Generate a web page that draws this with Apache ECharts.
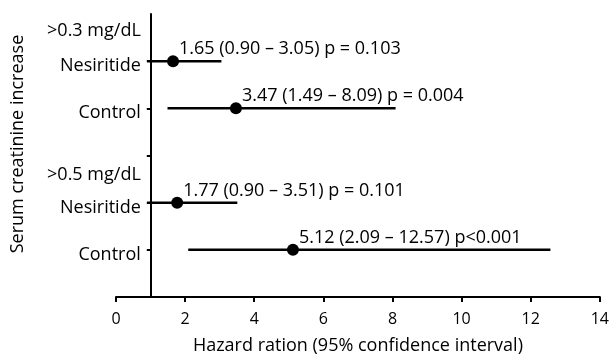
<!DOCTYPE html>
<html>
<head>
<meta charset="utf-8">
<script src="https://cdn.jsdelivr.net/npm/echarts@6/dist/echarts.min.js"></script>
<style>html,body{margin:0;padding:0;background:#fff}#c{width:612px;height:360px}</style>
</head>
<body>
<div id="c"></div>
<script>
// Row labels on the left and their positions along the (inverted) row axis
const rowLabels = ['>0.3 mg/dL', 'Nesiritide', 'Control', '>0.5 mg/dL', 'Nesiritide', 'Control'];
const rowLabelPos = [0.25, 1, 2, 3.3, 4, 5];
const rowTicks = [1, 2, 3, 4, 5];
// Estimates
const rowPos = [1, 2, 4, 5];
const hazard = [1.65, 3.47, 1.77, 5.12];
const ciLow = [0.90, 1.49, 0.90, 2.09];
const ciHigh = [3.05, 8.09, 3.51, 12.57];
const pValues = ['p = 0.103', 'p = 0.004', 'p = 0.101', 'p<0.001'];
// X axis
const xMin = 0, xMax = 14, xStep = 2, refLine = 1;

const FONT = 'Open Sans';
const INK = '#000';
const W = 612, gridLeft = 116, gridRight = 9;
const gridWidth = W - gridLeft - gridRight;
const yOffset = -(refLine - xMin) / (xMax - xMin) * gridWidth;

const chart = echarts.init(document.getElementById('c'), null, {renderer: 'canvas'});

const ciSeries = rowPos.map((y, i) => ({
  type: 'line',
  data: [[ciLow[i], y], [ciHigh[i], y]],
  symbol: 'none',
  silent: true,
  lineStyle: {color: '#000', width: 2.5},
  z: 2
}));

const pointSeries = {
  type: 'scatter',
  data: rowPos.map((y, i) => [hazard[i], y]),
  symbol: 'circle',
  symbolSize: 12,
  itemStyle: {color: '#000', opacity: 1},
  z: 3,
  label: {
    show: true,
    position: 'right',
    distance: 0,
    offset: [0, -12],
    fontFamily: FONT,
    fontSize: 18,
    color: INK,
    opacity: 1,
    formatter: p => {
      const i = p.dataIndex;
      return hazard[i].toFixed(2) + ' (' + ciLow[i].toFixed(2) + ' \u2013 ' + ciHigh[i].toFixed(2) + ') ' + pValues[i];
    }
  }
};

chart.setOption({
  animation: false,
  backgroundColor: '#fff',
  grid: {left: gridLeft, right: gridRight, top: 14, bottom: 59},
  xAxis: {
    type: 'value',
    min: xMin, max: xMax, interval: xStep,
    splitLine: {show: false},
    axisLine: {show: true, onZero: false, lineStyle: {color: '#000', width: 2}},
    axisTick: {show: true, length: 5, lineStyle: {color: '#000', width: 2}},
    axisLabel: {margin: 14, fontFamily: FONT, fontSize: 16, color: INK},
    name: 'Hazard ration (95% confidence interval)',
    nameLocation: 'middle',
    nameGap: 40,
    nameTextStyle: {fontFamily: FONT, fontSize: 18, color: INK}
  },
  yAxis: {
    type: 'value',
    inverse: true,
    min: 0, max: 6, interval: 1,
    position: 'left',
    offset: yOffset,
    splitLine: {show: false},
    axisLine: {show: true, onZero: false, lineStyle: {color: '#000', width: 2}},
    axisTick: {show: true, length: 4, customValues: rowTicks, lineStyle: {color: '#000', width: 2}},
    axisLabel: {
      customValues: rowLabelPos,
      margin: 10,
      fontFamily: FONT, fontSize: 18, color: INK,
      formatter: v => {
        const i = rowLabelPos.indexOf(v);
        return i >= 0 ? '{t|' + rowLabels[i] + '}' : '';
      },
      rich: {
        t: {fontFamily: FONT, fontSize: 18, color: INK, padding: [10, 0, 0, 0]}
      }
    }
  },
  graphic: [{
    type: 'text',
    x: 18, y: 144,
    rotation: Math.PI / 2,
    style: {
      text: 'Serum creatinine increase',
      fontFamily: FONT, fontSize: 18, fill: INK,
      align: 'center', verticalAlign: 'middle'
    }
  }],
  series: [...ciSeries, pointSeries]
});
</script>
</body>
</html>
